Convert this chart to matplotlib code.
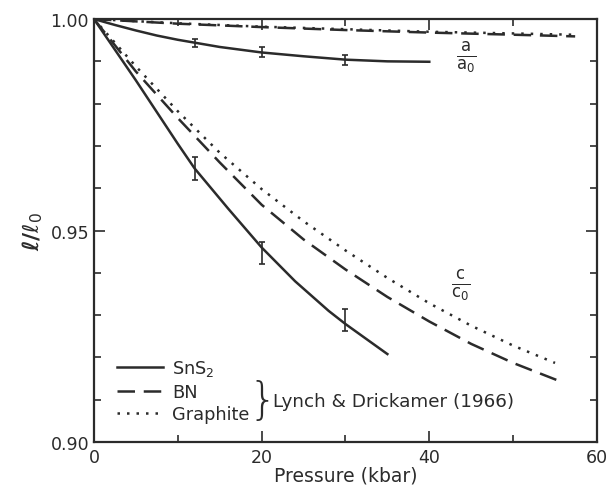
import matplotlib
matplotlib.use("Agg")
import matplotlib.pyplot as plt
from matplotlib.ticker import MultipleLocator, FixedLocator
from matplotlib.lines import Line2D

# ---- data ----
# c-axis compression
sns2_c_p = [0, 5, 10, 12, 16, 20, 24, 28, 30, 35]
sns2_c_v = [1.0, 0.9855, 0.9705, 0.9647, 0.9552, 0.9460, 0.9380, 0.9310, 0.9279, 0.9208]
bn_c_p = [0, 5, 10, 15, 20, 25, 30, 35, 40, 45, 50, 55.8]
bn_c_v = [1.0, 0.9876, 0.9766, 0.9661, 0.9561, 0.9479, 0.9408, 0.9343, 0.9285, 0.9232, 0.9187, 0.9142]
gr_c_p = [0, 5, 10, 15, 20, 25, 30, 35, 40, 45, 50, 55]
gr_c_v = [1.0, 0.9888, 0.9782, 0.9684, 0.9598, 0.9522, 0.9453, 0.9388, 0.9328, 0.9275, 0.9228, 0.9187]
# a-axis compression
sns2_a_p = [0, 2.5, 5, 7.5, 10, 15, 20, 25, 30, 35, 40]
sns2_a_v = [1.0, 0.9986, 0.9973, 0.9961, 0.9951, 0.9934, 0.9921, 0.9912, 0.9904, 0.9900, 0.9899]
bn_a_p = [0, 10, 20, 30, 40, 50, 57.4]
bn_a_v = [1.0, 0.9989, 0.9981, 0.9974, 0.9968, 0.9963, 0.9959]
gr_a_p = [0, 10, 20, 30, 40, 50, 57.0]
gr_a_v = [1.0, 0.9990, 0.9982, 0.9976, 0.9970, 0.9966, 0.9963]
# SnS2 measured points with error bars
err_c_p = [12, 20, 30]
err_c_v = [0.9647, 0.9447, 0.9289]
err_c_e = [0.0027, 0.0026, 0.0026]
err_a_p = [12, 20, 30]
err_a_v = [0.9943, 0.9922, 0.9903]
err_a_e = [0.0010, 0.0011, 0.0012]

series_labels = ["SnS$_2$", "BN", "Graphite"]
ref_label = "Lynch & Drickamer (1966)"

ink = "#2b2b2b"
lw = 1.8

fig = plt.figure(figsize=(6.11, 4.89), dpi=100)
ax = fig.add_axes([0.1538, 0.094, 0.8232, 0.865])

ls_dash = (0, (7, 3.5))
ls_dot = (0, (1.0, 2.8))

kw = dict(color=ink, lw=lw, solid_joinstyle='round', dash_capstyle='butt')
ax.plot(sns2_c_p, sns2_c_v, ls='-', **kw)
ax.plot(bn_c_p, bn_c_v, ls=ls_dash, **kw)
ax.plot(gr_c_p, gr_c_v, ls=ls_dot, **kw)
ax.plot(sns2_a_p, sns2_a_v, ls='-', **kw)
ax.plot(bn_a_p, bn_a_v, ls=ls_dash, **kw)
ax.plot(gr_a_p, gr_a_v, ls=ls_dot, **kw)

ax.errorbar(err_c_p, err_c_v, yerr=err_c_e, fmt='none', ecolor=ink, elinewidth=1.2, capsize=2.5, capthick=1.2)
ax.errorbar(err_a_p, err_a_v, yerr=err_a_e, fmt='none', ecolor=ink, elinewidth=1.2, capsize=2.5, capthick=1.2)

ax.set_xlim(0, 60)
ax.set_ylim(0.90, 1.00)
ax.xaxis.set_major_locator(FixedLocator([0, 20, 40, 60]))
ax.xaxis.set_minor_locator(FixedLocator([10, 30, 50]))
ax.yaxis.set_major_locator(FixedLocator([0.90, 0.95, 1.00]))
ax.yaxis.set_minor_locator(MultipleLocator(0.01))
ax.set_xticklabels(["0", "20", "40", "60"])
ax.set_yticklabels(["0.90", "0.95", "1.00"])
ax.tick_params(which='both', direction='in', top=True, right=True, color=ink, width=1.2,
               labelsize=12.5, labelcolor=ink)
ax.tick_params(which='major', length=8)
ax.tick_params(which='minor', length=5)
ax.tick_params(axis='x', pad=4)
for s in ax.spines.values():
    s.set_linewidth(1.6)
    s.set_color(ink)

ax.set_xlabel("Pressure (kbar)", fontsize=13.5, color=ink, labelpad=0)
ax.set_ylabel(r"$\boldsymbol{\ell/\ell_0}$", fontsize=16, color=ink, labelpad=4)

ax.text(44.4, 0.9910, r"$\frac{\mathsf{a}}{\mathsf{a_0}}$", fontsize=17, color=ink, ha='center', va='center')
ax.text(43.7, 0.9372, r"$\frac{\mathsf{c}}{\mathsf{c_0}}$", fontsize=17, color=ink, ha='center', va='center')

handles = [Line2D([], [], color=ink, lw=lw, ls='-'),
           Line2D([], [], color=ink, lw=lw, ls=ls_dash),
           Line2D([], [], color=ink, lw=lw, ls=ls_dot)]
leg = ax.legend(handles, series_labels, loc='lower left', bbox_to_anchor=(0.046, 0.045),
                frameon=False, fontsize=12.8, handlelength=2.6, handletextpad=0.5,
                labelspacing=0.24, borderpad=0, borderaxespad=0, labelcolor=ink)

ax.text(0.335, 0.098, "}", transform=ax.transAxes, fontsize=32, color=ink,
        ha='center', va='center', fontweight='light')
ax.text(0.356, 0.098, ref_label, transform=ax.transAxes, fontsize=13.2, color=ink,
        ha='left', va='center')

fig.savefig("out.png", dpi=100)
